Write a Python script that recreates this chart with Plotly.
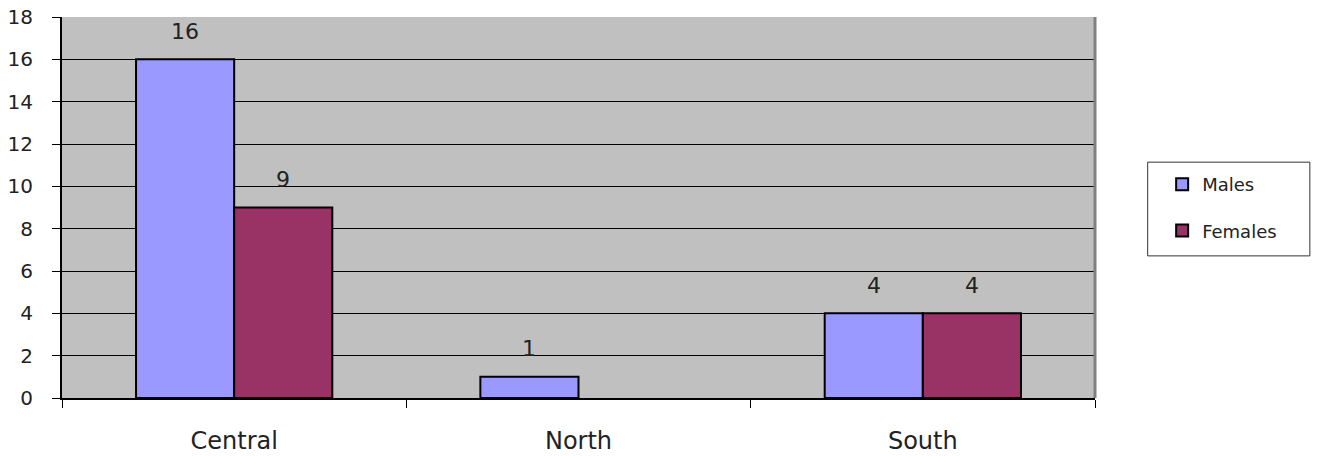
import plotly.graph_objects as go

categories = ["Central", "North", "South"]
males = [16, 1, 4]
females = [9, 0, 4]
series_names = ["Males", "Females"]
y_ticks = list(range(0, 19, 2))

colors = ["#9999FF", "#993366"]
BARGAP = 0.43

fig = go.Figure()
for name, vals, col in zip(series_names, [males, females], colors):
    fig.add_trace(go.Bar(
        x=categories, y=vals, name=name, legendgroup=name,
        marker=dict(color=col, line=dict(color="black",
                                         width=[2 if v > 0 else 0 for v in vals])),
    ))

# value labels above bars
bar_w = (1 - BARGAP) / 2
annotations = []
for s, vals in enumerate([males, females]):
    off = (s - 0.5) * bar_w
    for i, v in enumerate(vals):
        if v == 0:
            continue
        annotations.append(dict(
            x=i + off, y=v, xref="x", yref="y", text=str(v), showarrow=False,
            yshift=28, font=dict(size=22, color="#222222", family="DejaVu Sans"),
        ))

fig.update_layout(
    width=1319, height=456,
    margin=dict(l=62, r=224, t=17, b=58, autoexpand=False),
    plot_bgcolor="#C0C0C0", paper_bgcolor="white",
    barmode="group", bargap=BARGAP, bargroupgap=0,
    font=dict(family="DejaVu Sans", color="black"),
    annotations=annotations,
    legend=dict(
        x=1.065, y=0.609, xanchor="left", yanchor="top",
        borderwidth=0, bgcolor="rgba(0,0,0,0)",
        font=dict(size=18, family="DejaVu Sans", color="#222222"),
        tracegroupgap=20, itemwidth=30,
    ),
    showlegend=True,
    shapes=[
        dict(type="line", xref="paper", yref="paper", x0=1, x1=1, y0=0, y1=1,
             line=dict(color="#808080", width=3)),
        dict(type="rect", xref="paper", yref="paper", x0=1.051, x1=1.208,
             y0=0.373, y1=0.619, line=dict(color="#333333", width=1),
             fillcolor="white", layer="below"),
    ],
)
fig.update_xaxes(
    type="category", showline=True, linecolor="black", linewidth=2,
    ticks="outside", tickson="boundaries", ticklen=8, tickcolor="black",
    tickfont=dict(size=24, family="DejaVu Sans", color="#222222"), ticklabelstandoff=20,
    showgrid=False, automargin=False,
)
fig.update_yaxes(
    range=[0, 18], tickvals=y_ticks, showline=True, linecolor="black", linewidth=2,
    ticks="outside", ticklen=8, tickcolor="black",
    tickfont=dict(size=20, family="DejaVu Sans", color="#222222"), ticklabelstandoff=15,
    showgrid=True, gridcolor="black", gridwidth=1, zeroline=False, automargin=False,
)
fig.write_html("out.html", config={"displayModeBar": False},
               post_script="document.body.style.margin='0';")
